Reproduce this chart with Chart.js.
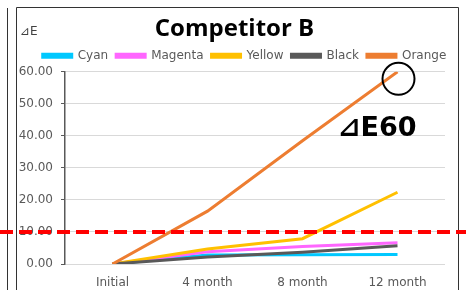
<!DOCTYPE html>
<html>
<head>
<meta charset="utf-8">
<script src="https://cdn.jsdelivr.net/npm/chart.js@4"></script>
<style>
  html, body { margin: 0; padding: 0; background: #fff; }
  #wrap { width: 466px; height: 290px; position: relative; }
</style>
</head>
<body>
<div id="wrap"><canvas id="chart" width="466" height="290"></canvas></div>
<script>
const categories = ['Initial', '4 month', '8 month', '12 month'];
const cyan = [0, 2.8, 2.9, 3.0];
const magenta = [0, 3.8, 5.5, 6.6];
const yellow = [0, 4.7, 7.9, 22.4];
const black = [0, 2.2, 3.7, 5.7];
const orange = [0, 16.5, 38.5, 60.0];
const limit = 10;
const yMin = 0, yMax = 60, yStep = 5;

const FONT = 'DejaVu Sans';
const GRAY = '#595959';

function series(label, data, color, order) {
    return { label: label, data: data, borderColor: color, backgroundColor: color,
             borderWidth: 3, pointRadius: 0, tension: 0, fill: false, order: order };
}

// frame, threshold line and the callout are drawn here
const extras = {
    id: 'extras',
    afterLayout(chart) {
        // the legend and title sit a little right of centre in the original
        chart.legend.left += 14; chart.legend.right += 14;
        chart.titleBlock.left += 4; chart.titleBlock.right += 4;
    },
    beforeDraw(chart) {
        const c = chart.ctx;
        c.save();
        c.fillStyle = '#fff';
        c.fillRect(0, 0, chart.width, chart.height);
        c.strokeStyle = '#333';
        c.lineWidth = 1;
        c.beginPath();
        c.moveTo(7.5, 8); c.lineTo(7.5, 290);
        c.moveTo(16.5, 290); c.lineTo(16.5, 7.5); c.lineTo(458.5, 7.5); c.lineTo(458.5, 290);
        c.stroke();
        c.fillStyle = '#404040';
        c.font = '12px ' + FONT;
        c.textBaseline = 'alphabetic';
        c.fillText('⊿E', 20, 35);
        c.restore();
    },
    afterDraw(chart) {
        const c = chart.ctx, x = chart.scales.x, y = chart.scales.y;
        c.save();
        // threshold
        const ly = y.getPixelForValue(limit);
        c.strokeStyle = '#ff0000';
        c.lineWidth = 4;
        c.setLineDash([13, 6]);
        c.beginPath();
        c.moveTo(0, ly); c.lineTo(chart.width, ly);
        c.stroke();
        c.setLineDash([]);
        // callout on last orange point
        const last = orange.length - 1;
        const px = x.getPixelForValue(last), py = y.getPixelForValue(orange[last]);
        c.strokeStyle = '#000';
        c.lineWidth = 2;
        c.beginPath();
        c.arc(px + 1, py + 7, 16, 0, Math.PI * 2);
        c.stroke();
        c.fillStyle = '#000';
        c.font = 'bold 27px ' + FONT;
        c.textAlign = 'right';
        c.fillText('⊿E' + orange[last], px + 19, py + 57);
        c.restore();
    }
};

new Chart(document.getElementById('chart'), {
    type: 'line',
    data: {
        labels: categories,
        datasets: [
            series('Cyan', cyan, '#00c8ff', 5),
            series('Magenta', magenta, '#ff66ff', 4),
            series('Yellow', yellow, '#ffc000', 3),
            series('Black', black, '#595959', 2),
            series('Orange', orange, '#ed7d31', 1)
        ]
    },
    options: {
        responsive: false,
        animation: false,
        layout: { padding: { left: 16, right: 21, top: 13, bottom: 0 } },
        plugins: {
            title: {
                display: true, text: 'Competitor B', color: '#000',
                font: { family: 'Open Sans', size: 24, weight: 'bold' },
                padding: { top: 2, bottom: -2 }
            },
            legend: {
                position: 'top',
                labels: {
                    color: GRAY, boxWidth: 29, boxHeight: 3, padding: 8,
                    font: { family: FONT, size: 12 },
                    sort: (a, b) => a.datasetIndex - b.datasetIndex
                }
            },
            tooltip: { enabled: false }
        },
        scales: {
            x: {
                offset: true,
                grid: { display: false },
                border: { display: false },
                ticks: { color: GRAY, font: { family: FONT, size: 12 }, padding: 4 },
                afterFit: s => { s.height = 26; }
            },
            y: {
                min: yMin, max: yMax,
                ticks: {
                    stepSize: yStep, color: GRAY, font: { family: FONT, size: 12 }, padding: 8,
                    callback: v => (v % 10 === 0 ? v.toFixed(2) : '')
                },
                grid: {
                    color: ctx => (ctx.tick && ctx.tick.value % 10 === 0 ? '#d9d9d9' : 'rgba(0,0,0,0)'),
                    tickColor: GRAY, tickLength: 4, drawTicks: true
                },
                border: { display: true, color: GRAY, width: 1.5 },
                afterFit: s => { s.width = 49; }
            }
        }
    },
    plugins: [extras]
});
</script>
</body>
</html>
